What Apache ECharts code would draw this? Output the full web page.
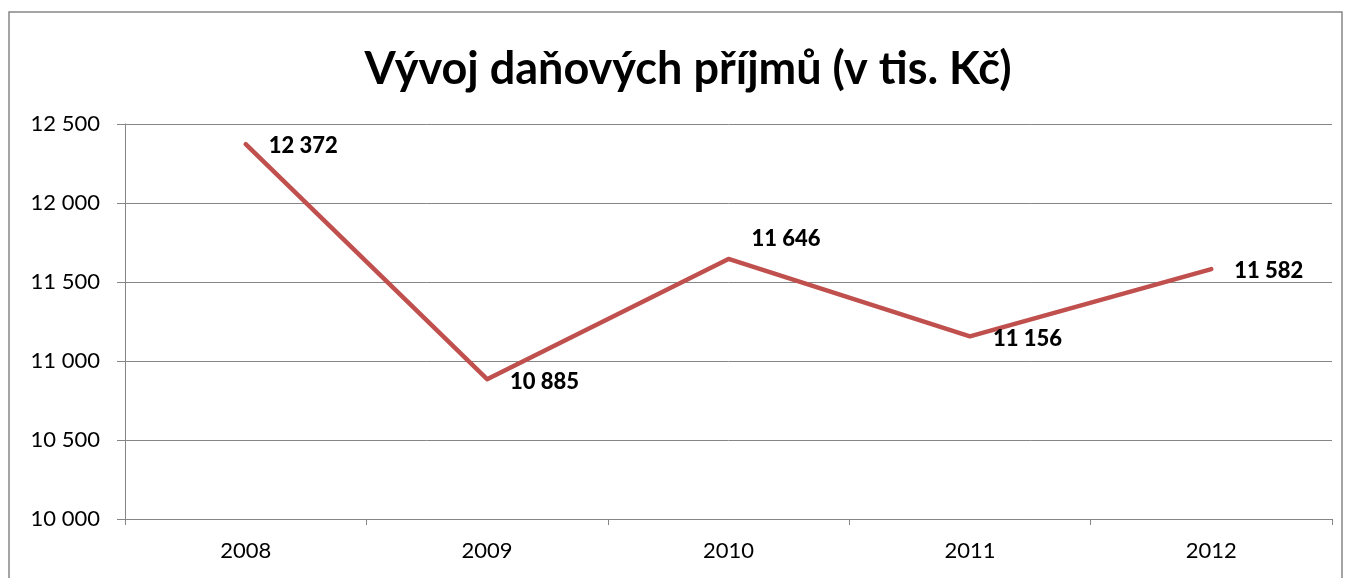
<!DOCTYPE html>
<html><head><meta charset="utf-8">
<script src="https://cdn.jsdelivr.net/npm/echarts@6/dist/echarts.min.js"></script>
<style>html,body{margin:0;padding:0;background:#fff}#c{width:1350px;height:578px}</style>
</head><body><div id="c"></div>
<script>
const categories = ['2008','2009','2010','2011','2012'];
const values = [12372, 10885, 11646, 11156, 11582];
const title = 'Vývoj daňových příjmů (v tis. Kč)';

const labelOffsets = [[0,2],[0,3],[0,-20],[0,3],[0,2]];
const fmt = v => String(v).replace(/\B(?=(\d{3})+(?!\d))/g, ' ');
const FONT = 'Lato, "Open Sans", sans-serif';

const chart = echarts.init(document.getElementById('c'));
chart.setOption({
  animation: false,
  backgroundColor: '#fff',
  title: {
    text: title, left: 683, textAlign: 'center', top: 42,
    textStyle: {fontFamily: FONT, fontWeight: 'bold', fontSize: 45, color: '#000'}
  },
  graphic: [{
    type: 'rect', shape: {x: 9, y: 12, width: 1333, height: 620},
    style: {fill: 'none', stroke: '#868686', lineWidth: 1.5}, z: -1
  }],
  grid: {left: 125, right: 18, top: 124, bottom: 59},
  xAxis: {
    type: 'category', data: categories, boundaryGap: true,
    axisLine: {lineStyle: {color: '#868686'}},
    axisTick: {show: true, length: 6, lineStyle: {color: '#868686'}},
    axisLabel: {fontFamily: FONT, fontSize: 22, color: '#000', margin: 21}
  },
  yAxis: {
    type: 'value', min: 10000, max: 12500, interval: 500,
    axisLine: {show: true, lineStyle: {color: '#868686'}},
    axisTick: {show: true, length: 8, lineStyle: {color: '#868686'}},
    splitLine: {lineStyle: {color: '#868686'}},
    axisLabel: {fontFamily: FONT, fontSize: 22, color: '#000', margin: 25, formatter: v => fmt(v)}
  },
  series: [{
    type: 'line',
    data: values.map((v, i) => ({value: v, label: {offset: labelOffsets[i]}})),
    symbol: 'circle', symbolSize: 2, showSymbol: true,
    itemStyle: {color: 'rgba(192,80,77,0)', borderWidth: 0},
    lineStyle: {color: '#C0504D', width: 4.5, cap: 'round', join: 'round'},
    label: {
      show: true, position: 'right', distance: 22,
      fontFamily: FONT, fontWeight: 900, fontSize: 22, color: '#000',
      formatter: p => fmt(p.value)
    }
  }]
});
</script></body></html>
